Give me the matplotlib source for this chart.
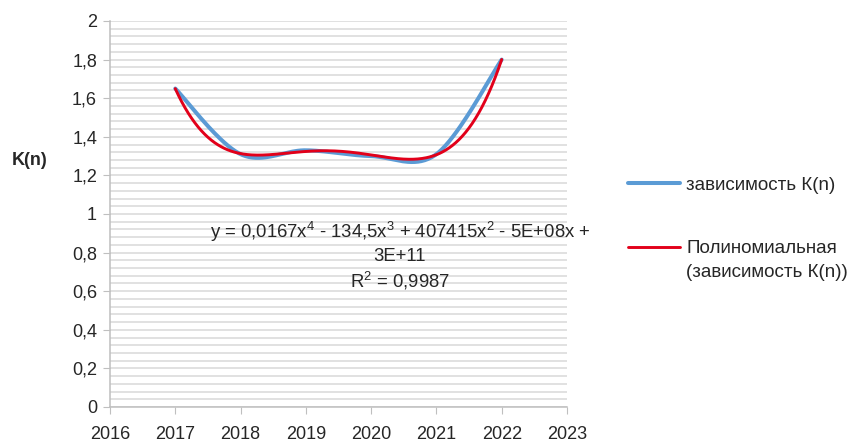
import numpy as np
import matplotlib
matplotlib.use("Agg")
import matplotlib.pyplot as plt

plt.rcParams['font.family'] = ['Liberation Sans', 'DejaVu Sans']
plt.rcParams['mathtext.fontset'] = 'custom'
plt.rcParams['mathtext.rm'] = 'Liberation Sans'
plt.rcParams['mathtext.it'] = 'Liberation Sans'
plt.rcParams['mathtext.default'] = 'rm'

# data
years = [2017, 2018, 2019, 2020, 2021, 2022]
k_values = [1.65, 1.31, 1.33, 1.30, 1.31, 1.80]

x_ticks = [2016, 2017, 2018, 2019, 2020, 2021, 2022, 2023]
y_ticks = [0, 0.2, 0.4, 0.6, 0.8, 1.0, 1.2, 1.4, 1.6, 1.8, 2.0]
y_tick_labels = ['0', '0,2', '0,4', '0,6', '0,8', '1', '1,2', '1,4', '1,6', '1,8', '2']

series_label = 'зависимость К(n)'
trend_label = 'Полиномиальная'
trend_label_2 = '(зависимость К(n))'
trend_text = ('y = 0,0167x$^4$ - 134,5x$^3$ + 407415x$^2$ - 5E+08x +\n'
              '3E+11\nR$^2$ = 0,9987')

BLUE = '#5B9BD5'
RED = '#E2001A'
GRID = '#D9D9D9'
TXT = '#262626'


def smooth_line(xs, ys, n=40):
    # excel-like smoothed line (catmull-rom bezier)
    xs = np.asarray(xs, float)
    ys = np.asarray(ys, float)
    px = np.concatenate([[xs[0]], xs, [xs[-1]]])
    py = np.concatenate([[ys[0]], ys, [ys[-1]]])
    outx, outy = [], []
    t = np.linspace(0, 1, n)
    for i in range(1, len(px) - 2):
        p0 = np.array([px[i], py[i]])
        p3 = np.array([px[i + 1], py[i + 1]])
        p1 = p0 + (np.array([px[i + 1], py[i + 1]]) - np.array([px[i - 1], py[i - 1]])) / 6
        p2 = p3 - (np.array([px[i + 2], py[i + 2]]) - np.array([px[i], py[i]])) / 6
        b = ((1 - t) ** 3)[:, None] * p0 + (3 * (1 - t) ** 2 * t)[:, None] * p1 \
            + (3 * (1 - t) * t ** 2)[:, None] * p2 + (t ** 3)[:, None] * p3
        outx.extend(b[:, 0])
        outy.extend(b[:, 1])
    return np.array(outx), np.array(outy)


fig = plt.figure(figsize=(8.54, 4.42), dpi=100)
ax = fig.add_axes([0.1288, 0.0792, 0.5351, 0.8733])

# gridlines
ax.set_yticks(np.arange(0, 2.001, 0.04), minor=True)
ax.yaxis.grid(True, which='both', color=GRID, linewidth=1.1)
ax.set_axisbelow(True)

sx, sy = smooth_line(years, k_values)
ax.plot(sx, sy, color=BLUE, linewidth=2.9, solid_capstyle='round', label=series_label)

xo = np.array(years) - 2016
coef = np.polyfit(xo, k_values, 4)
fx = np.linspace(years[0], years[-1], 300)
ax.plot(fx, np.polyval(coef, fx - 2016), color=RED, linewidth=2.1,
        solid_capstyle='round', label=trend_label)

ax.text(2020.44, 0.97, trend_text, ha='center', va='top', fontsize=13.3,
        color=TXT, linespacing=1.3)

ax.set_xlim(2016, 2023)
ax.set_ylim(0, 2)
ax.set_xticks(x_ticks)
ax.set_xticklabels([str(v) for v in x_ticks])
ax.set_yticks(y_ticks)
ax.set_yticklabels(y_tick_labels)
ax.tick_params(axis='both', which='major', length=5, color='#BFBFBF',
               labelsize=13, labelcolor=TXT)
ax.tick_params(axis='y', which='minor', length=0)
ax.tick_params(axis='y', pad=4.3)
ax.tick_params(axis='x', pad=8.5)

for s in ['top', 'right']:
    ax.spines[s].set_visible(False)
for s in ['left', 'bottom']:
    ax.spines[s].set_color('#BFBFBF')
    ax.spines[s].set_linewidth(1.1)

fig.text(0.035, 0.637, 'K(n)', fontsize=13, fontweight='bold', color=TXT,
         ha='center', va='center')

leg = ax.legend(loc='upper left', bbox_to_anchor=(0.7248, 0.621), bbox_transform=fig.transFigure,
                frameon=False, fontsize=13.5, handlelength=2.75, handletextpad=0.33,
                labelspacing=2.45, borderpad=0)
for t in leg.get_texts():
    t.set_color(TXT)

# second line of the trendline legend entry, under its first line
fig.canvas.draw()
bb = leg.get_texts()[1].get_window_extent()
W, H = fig.bbox.width, fig.bbox.height
fig.text(bb.x0 / W, (bb.y0 - 24) / H, trend_label_2, fontsize=13.5, color=TXT,
         ha='left', va='bottom')

fig.savefig('out.png', dpi=100)
